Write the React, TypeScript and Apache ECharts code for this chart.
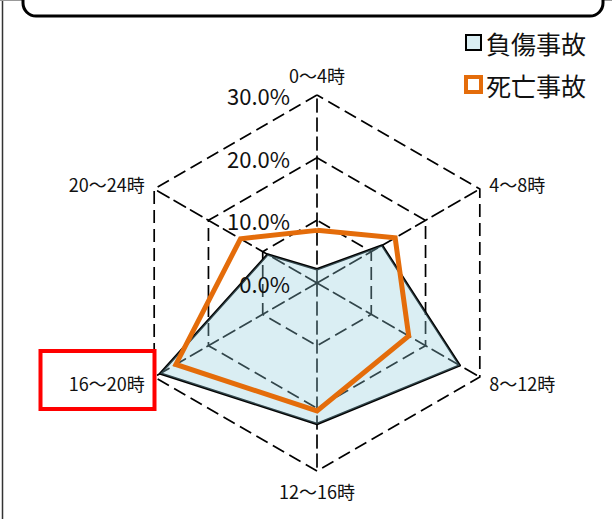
import React, { useEffect, useRef } from 'react';
import * as echarts from 'echarts';

const categories = ['0〜4時', '4〜8時', '8〜12時', '12〜16時', '16〜20時', '20〜24時'];
const injuryRates = [2.2, 12.0, 26.3, 22.5, 28.9, 9.1];
const fatalRates = [8.4, 14.4, 16.9, 20.4, 26.0, 14.1];
const seriesNames = ['負傷事故', '死亡事故'];
const axisMin = 0;
const axisMax = 30;
const axisSplits = 3;

// ECharts lays radar indicators out counter-clockwise; reorder for clockwise display
const order = [0, 5, 4, 3, 2, 1];

const FONT = '"Noto Sans CJK JP", "Noto Sans", sans-serif';

export default function App() {
  const ref = useRef<HTMLDivElement>(null);
  useEffect(() => {
    if (!ref.current) return;
    const chart = echarts.init(ref.current, undefined, { renderer: 'svg' });
    const dashed = { color: '#000', width: 1.7, type: [13, 6] as any };
    const baseRadar = {
      center: [317, 283],
      radius: 188,
      startAngle: 90,
      splitNumber: axisSplits,
      shape: 'polygon',
    };
    chart.setOption({
      animation: false,
      backgroundColor: '#fff',
      legend: {
        orient: 'vertical',
        right: 21,
        top: 25,
        itemWidth: 15,
        itemHeight: 15,
        itemGap: 17,
        icon: 'rect',
        textStyle: { fontFamily: FONT, fontSize: 25, color: '#111' },
        data: [
          { name: seriesNames[0], itemStyle: { color: '#DAEEF3', borderColor: '#000', borderWidth: 2 } },
          { name: seriesNames[1], itemStyle: { color: '#fff', borderColor: '#E46C0A', borderWidth: 4 } },
        ],
      },
      radar: [
        {
          ...baseRadar,
          z: 0,
          indicator: order.map((i) => ({ name: categories[i], min: axisMin, max: axisMax })),
          axisName: { color: '#111', fontFamily: FONT, fontSize: 18 },
          nameGap: 11,
          axisLine: { show: true, lineStyle: dashed },
          splitLine: { show: true, lineStyle: dashed },
          splitArea: { show: false },
          axisTick: { show: false },
          axisLabel: { show: false },
        },
        {
          ...baseRadar,
          z: 5,
          indicator: order.map((i, k) => ({
            name: '',
            min: axisMin,
            max: axisMax,
            ...(k === 0
              ? {
                  axisLabel: {
                    show: true,
                    fontFamily: FONT,
                    fontSize: 22,
                    color: '#111',
                    margin: 27,
                    formatter: (v: number) => v.toFixed(1) + '%',
                  },
                }
              : {}),
          })),
          axisName: { show: false },
          axisLine: { show: false },
          splitLine: { show: false },
          splitArea: { show: false },
          axisTick: { show: false },
          axisLabel: { show: false },
        },
      ],
      series: [
        {
          type: 'radar',
          radarIndex: 0,
          symbol: 'none',
          z: 2,
          data: [
            {
              name: seriesNames[0],
              value: order.map((i) => injuryRates[i]),
              lineStyle: { color: '#000', width: 2.5 },
              itemStyle: { color: '#DAEEF3' },
              areaStyle: { color: 'rgba(146,205,220,0.34)', opacity: 1 },
            },
            {
              name: seriesNames[1],
              value: order.map((i) => fatalRates[i]),
              lineStyle: { color: '#E46C0A', width: 5, join: 'miter' },
              itemStyle: { color: '#E46C0A' },
            },
          ],
        },
      ],
      graphic: [
        { type: 'line', shape: { x1: 2.5, y1: 0, x2: 2.5, y2: 519 }, style: { stroke: '#333', lineWidth: 1.5 } },
        { type: 'line', shape: { x1: 0, y1: 0.5, x2: 612, y2: 0.5 }, style: { stroke: '#999', lineWidth: 1 } },
        {
          type: 'rect',
          shape: { x: 23, y: -40, width: 580, height: 56, r: 13 },
          style: { fill: '#fff', stroke: '#000', lineWidth: 3 },
        },
        {
          type: 'rect',
          shape: { x: 40.5, y: 351, width: 114, height: 58 },
          style: { fill: 'none', stroke: '#FF0000', lineWidth: 4 },
          z: 10,
        },
      ],
    });
    return () => chart.dispose();
  }, []);
  return <div ref={ref} style={{ position: 'absolute', left: 0, top: 0, width: 612, height: 519 }} />;
}
